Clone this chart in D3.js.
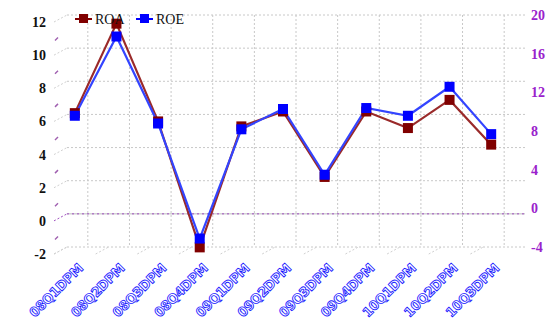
<!DOCTYPE html>
<html>
<head>
  <style>
    body { margin: 0; background: #fff; }
    svg { display: block; }
  </style>
</head>
<body>
  <div id="chart"></div>
  <script src="https://d3js.org/d3.v7.min.js"></script>
  <script>
    // Data
    const quarters = ["08Q1DPM", "08Q2DPM", "08Q3DPM", "08Q4DPM", "09Q1DPM", "09Q2DPM",
                      "09Q3DPM", "09Q4DPM", "10Q1DPM", "10Q2DPM", "10Q3DPM"];
    const roa = [6.5, 11.9, 6.0, -1.6, 5.7, 6.6, 2.65, 6.6, 5.6, 7.3, 4.6];
    const roe = [10.3, 18.5, 9.5, -2.4, 8.9, 11.0, 4.2, 11.1, 10.3, 13.3, 8.4];
    const leftTicks = [-2, 0, 2, 4, 6, 8, 10, 12];
    const leftMinor = [-1, 1, 3, 5, 7, 9, 11];
    const rightTicks = [-4, 0, 4, 8, 12, 16, 20];

    const W = 559, H = 327;
    const dx = 13, dy = -7;   // depth offset of back wall

    const svg = d3.select("#chart")
      .append("svg")
      .attr("width", W)
      .attr("height", H);

    // front plane scales
    const x = d3.scaleBand().domain(quarters).range([54, 512]);
    const yL = d3.scaleLinear().domain([-2, 12]).range([254, 22]);
    const yR = d3.scaleLinear().domain([-4, 20]).range([254, 22]);
    const cx = d => x(d) + x.bandwidth() / 2;

    const grid = svg.append("g");
    const x0 = x.range()[0], x1 = x.range()[1];

    // horizontal gridlines on back wall + depth lines on left
    leftTicks.forEach(v => {
      if (v === 0) return;
      grid.append("line")
        .attr("x1", x0 + dx).attr("x2", x1 + dx)
        .attr("y1", yL(v) + dy).attr("y2", yL(v) + dy)
        .attr("stroke", "#c8c8c8").attr("stroke-dasharray", "2,2");
      grid.append("line")
        .attr("x1", x0).attr("x2", x0 + dx)
        .attr("y1", yL(v)).attr("y2", yL(v) + dy)
        .attr("stroke", "#d0d0d0").attr("stroke-dasharray", "2,2");
    });

    // vertical gridlines on back wall + floor depth lines
    quarters.forEach(q => {
      grid.append("line")
        .attr("x1", cx(q) + dx).attr("x2", cx(q) + dx)
        .attr("y1", yL(12) + dy).attr("y2", yL(-2) + dy)
        .attr("stroke", "#c8c8c8").attr("stroke-dasharray", "2,2");
      grid.append("line")
        .attr("x1", x(q)).attr("x2", x(q) + dx)
        .attr("y1", yL(-2)).attr("y2", yL(-2) + dy)
        .attr("stroke", "#d0d0d0").attr("stroke-dasharray", "2,2");
    });

    // minor tick slashes on left
    leftMinor.forEach(v => {
      grid.append("line")
        .attr("x1", x0 + 1).attr("x2", x0 + 4)
        .attr("y1", yL(v) + 2).attr("y2", yL(v) - 1)
        .attr("stroke", "#a060b0").attr("stroke-width", 1.5);
    });

    // zero line
    grid.append("line")
      .attr("x1", x0 + dx).attr("x2", x1 + dx)
      .attr("y1", yL(0) + dy).attr("y2", yL(0) + dy)
      .attr("stroke", "#bdbdbd").attr("stroke-width", 1);
    grid.append("line")
      .attr("x1", x0 + dx).attr("x2", x1 + dx)
      .attr("y1", yL(0) + dy).attr("y2", yL(0) + dy)
      .attr("stroke", "#a050c0").attr("stroke-dasharray", "2,3");
    grid.append("line")
      .attr("x1", x0).attr("x2", x0 + dx)
      .attr("y1", yL(0)).attr("y2", yL(0) + dy)
      .attr("stroke", "#a050c0").attr("stroke-dasharray", "2,2");

    // left axis labels
    svg.append("g").selectAll("text")
      .data(leftTicks).enter().append("text")
      .attr("x", 46).attr("y", d => yL(d) + 5)
      .attr("text-anchor", "end")
      .attr("font-family", "Liberation Serif").attr("font-weight", "bold")
      .attr("font-size", 14).attr("fill", "#111")
      .text(d => d);

    // right axis labels
    svg.append("g").selectAll("text")
      .data(rightTicks).enter().append("text")
      .attr("x", 531).attr("y", d => yR(d) + dy + 5)
      .attr("font-family", "Liberation Serif").attr("font-weight", "bold")
      .attr("font-size", 14).attr("fill", "#9a22cc")
      .text(d => d);

    // category labels
    svg.append("g").selectAll("text")
      .data(quarters).enter().append("text")
      .attr("transform", d => `translate(${cx(d) + 9},${yL(-2) + 15}) rotate(-45)`)
      .attr("text-anchor", "end")
      .attr("font-family", "DejaVu Sans").attr("font-weight", "bold")
      .attr("font-size", 13).attr("letter-spacing", -0.3)
      .attr("fill", "#fff").attr("stroke", "#1a1aff").attr("stroke-width", 0.9)
      .text(d => d);

    // series
    const series = [
      { name: "ROA", values: roa, y: yL, color: "#800000", lineColor: "#9a2a2a" },
      { name: "ROE", values: roe, y: yR, color: "#0000ff", lineColor: "#3344ff" }
    ];

    series.forEach(s => {
      const line = d3.line()
        .x((d, i) => cx(quarters[i]))
        .y(d => s.y(d));
      svg.append("path")
        .datum(s.values)
        .attr("d", line)
        .attr("fill", "none")
        .attr("stroke", s.lineColor)
        .attr("stroke-width", 2.2);
    });
    series.forEach(s => {
      svg.append("g").selectAll("rect")
        .data(s.values).enter().append("rect")
        .attr("x", (d, i) => cx(quarters[i]) - 5)
        .attr("y", d => s.y(d) - 5)
        .attr("width", 10).attr("height", 10)
        .attr("fill", s.color);
    });

    // legend
    const legend = svg.append("g");
    [{ s: series[0], x: 75 }, { s: series[1], x: 136 }].forEach(l => {
      legend.append("line")
        .attr("x1", l.x).attr("x2", l.x + 17)
        .attr("y1", 19).attr("y2", 19)
        .attr("stroke", l.s.color).attr("stroke-width", 2);
      legend.append("rect")
        .attr("x", l.x + 4).attr("y", 14).attr("width", 9).attr("height", 9)
        .attr("fill", l.s.color);
      legend.append("text")
        .attr("x", l.x + 20).attr("y", 24)
        .attr("font-family", "Liberation Serif").attr("font-size", 14)
        .attr("fill", "#111")
        .text(l.s.name);
    });
  </script>
</body>
</html>
